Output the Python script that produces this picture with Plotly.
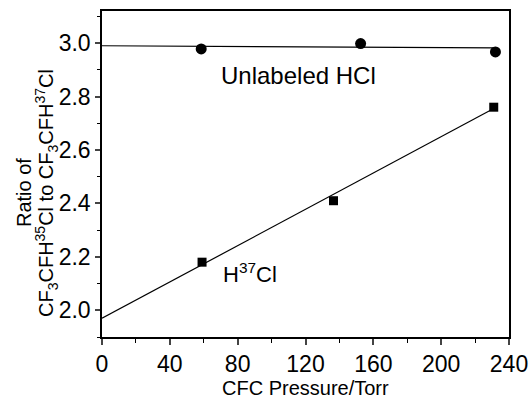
import plotly.graph_objects as go

# Data
unlabeled_x = [58.5, 152.5, 232]
unlabeled_y = [2.978, 2.998, 2.967]
h37_x = [59, 136.5, 231]
h37_y = [2.18, 2.41, 2.76]
fit_unl_x = [0, 232]
fit_unl_y = [2.99, 2.982]
fit_h37_x = [0, 231]
fit_h37_y = [1.97, 2.755]

x_ticks = [0, 40, 80, 120, 160, 200, 240]
y_ticks = [2.0, 2.2, 2.4, 2.6, 2.8, 3.0]

FONT = "Liberation Sans, Arial, sans-serif"
L, R, T, B = 102, 23, 11, 71
H = 408

fig = go.Figure()
fig.add_trace(go.Scatter(x=fit_unl_x, y=fit_unl_y, mode="lines",
                         line=dict(color="black", width=1.2), showlegend=False))
fig.add_trace(go.Scatter(x=fit_h37_x, y=fit_h37_y, mode="lines",
                         line=dict(color="black", width=1.2), showlegend=False))
fig.add_trace(go.Scatter(x=unlabeled_x, y=unlabeled_y, mode="markers",
                         marker=dict(symbol="circle", size=11, color="black"),
                         showlegend=False))
fig.add_trace(go.Scatter(x=h37_x, y=h37_y, mode="markers",
                         marker=dict(symbol="square", size=9, color="black"),
                         showlegend=False))

fig.add_annotation(x=116, y=2.877, xref="x", yref="y", text="Unlabeled HCl",
                   xanchor="center", yanchor="middle",
                   showarrow=False, font=dict(family=FONT, size=24, color="black"))
fig.add_annotation(x=87, y=2.14, xref="x", yref="y", xanchor="center", yanchor="middle",
                   text="H<sup>37</sup>Cl", showarrow=False,
                   font=dict(family=FONT, size=22, color="black"))

# y-axis title: two rotated lines
plot_h = H - T - B
ycen = 1 - (193 - T) / plot_h
fig.add_annotation(xref="paper", yref="paper", x=0, y=ycen, xshift=-(L - 24),
                   xanchor="center", yanchor="middle",
                   text="Ratio of", textangle=-90, showarrow=False,
                   font=dict(family=FONT, size=20, color="black"))
fig.add_annotation(xref="paper", yref="paper", x=0, y=ycen, xshift=-(L - 46),
                   xanchor="center", yanchor="middle",
                   text="CF<sub>3</sub>CFH<sup>35</sup>Cl to CF<sub>3</sub>CFH<sup>37</sup>Cl",
                   textangle=-90, showarrow=False,
                   font=dict(family=FONT, size=20, color="black"))
# x-axis title
fig.add_annotation(xref="paper", yref="paper", x=0.5, y=0, yshift=-(388 - (H - B)),
                   xanchor="center", yanchor="middle", text="CFC Pressure/Torr",
                   showarrow=False, font=dict(family=FONT, size=20, color="black"))

fig.update_layout(
    width=532, height=408,
    margin=dict(l=L, r=R, t=T, b=B, autoexpand=False),
    paper_bgcolor="white", plot_bgcolor="white",
    font=dict(family=FONT, color="black"),
    xaxis=dict(range=[0, 240], tickvals=x_ticks, ticks="outside", ticklen=6,
               tickwidth=1.5, showline=True, linewidth=1.5, linecolor="black",
               mirror=True, showgrid=False, zeroline=False, automargin=False,
               tickfont=dict(family=FONT, size=23),
               minor=dict(dtick=20, ticks="outside", ticklen=4, tickwidth=1.2,
                          tickcolor="black")),
    yaxis=dict(range=[1.9, 3.12], tickvals=y_ticks, tickformat=".1f",
               ticks="outside", ticklen=5, tickwidth=1.5, showline=True,
               linewidth=1.5, linecolor="black", mirror=True, showgrid=False,
               zeroline=False, automargin=False, tickfont=dict(family=FONT, size=23),
               minor=dict(dtick=0.1, ticks="outside", ticklen=3, tickwidth=1.2,
                          tickcolor="black")),
)

fig.write_html("out.html",
               config={"displayModeBar": False},
               post_script="document.body.style.margin='0';"
                           "document.body.style.overflow='hidden';")
